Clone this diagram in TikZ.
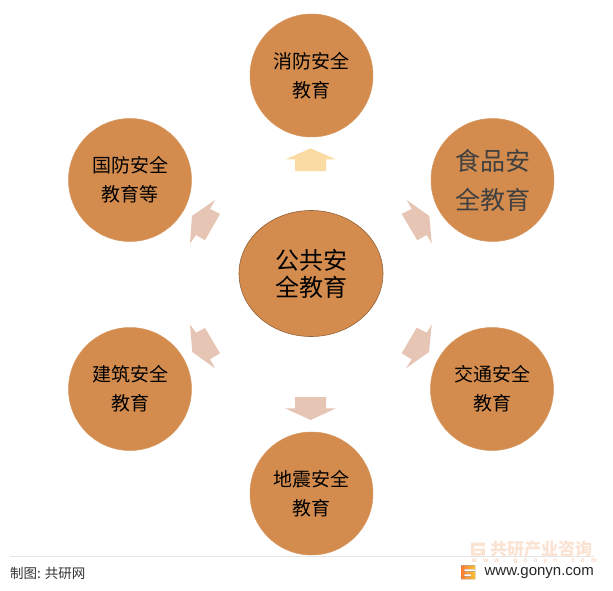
\documentclass[tikz,border=0pt]{standalone}
\usetikzlibrary{shapes.geometric}
\usepackage{fontspec}
\setmainfont{Noto Sans CJK SC}
\newfontfamily\latinf{Liberation Sans}
\definecolor{orangefill}{HTML}{D38C4E}
\definecolor{pinkarrow}{HTML}{E6C5B4}
\definecolor{yellowarrow}{HTML}{F9DBA3}
\definecolor{wmcolor}{HTML}{FBE3D3}
\definecolor{wmurlcolor}{HTML}{F4C8AC}
\tikzset{
  x=1pt,y=-1pt,
  topic/.style={circle,fill=orangefill,draw=orangefill!90!white,line width=.5pt,minimum size=123pt,inner sep=0pt,align=center,font=\fontsize{19}{29}\selectfont,text=black},
  pinkblock/.style={fill=pinkarrow,draw=none},
  yellowblock/.style={fill=yellowarrow,draw=none},
}
\begin{document}
\begin{tikzpicture}
\useasboundingbox (0,0) rectangle (613,591);
\fill[white] (0,0) rectangle (613,591);
% arrows
\fill[yellowblock] (310.7,148.3)--(335.7,159.3)--(326,159.3)--(326,171)--(295,171)--(295,159.3)--(285.7,159.3)--cycle;
\fill[pinkblock] (295,397)--(326,397)--(326,408.3)--(336,408.3)--(310.7,420)--(285,408.3)--(295,408.3)--cycle;
\fill[pinkblock] (215,200)--(210,209)--(220,214)--(205,240.3)--(196,235)--(190,243.3)--(192,216)--cycle;
\fill[pinkblock] (406.7,200)--(411.7,209)--(401.7,214)--(417.3,240.3)--(426.7,235)--(431.7,243.3)--(429.3,216)--cycle;
\fill[pinkblock] (215,368.3)--(210,359.3)--(220,353.3)--(205,328)--(196,332.7)--(190,324.7)--(192.3,352)--cycle;
\fill[pinkblock] (406,368.3)--(411.7,359.3)--(401.7,353.3)--(416.7,327.7)--(426.7,332.7)--(431.7,324.7)--(429,352)--cycle;
% circles
\node[topic] (fire) at (311.5,75.5) {消防安全\\教育};
\node[topic,font=\fontsize{25}{39}\selectfont,text=black!75] (food) at (492.5,180) {食品安\\全教育};
\node[topic] (traffic) at (492,389) {交通安全\\教育};
\node[topic] (quake) at (311.5,493.5) {地震安全\\教育};
\node[topic] (build) at (130,389) {建筑安全\\教育};
\node[topic] (defence) at (130,180) {国防安全\\教育等};
\node[ellipse,fill=orangefill,draw=orangefill!70!black,line width=.6pt,minimum width=144pt,minimum height=126pt,inner sep=0pt,align=center,font=\fontsize{24}{27}\selectfont] (core) at (311,273.5) {公共安\\全教育};
% footer
\coordinate (ruleL) at (10,556.5);
\coordinate (ruleR) at (594,556.5);
\draw[black!10,line width=.6pt] (ruleL)--(ruleR);
\node[anchor=west,inner sep=0pt,font=\fontsize{13.5}{15}\selectfont,text=black!80] (credit) at (10,573) {制图: 共研网};
% watermark
\node[anchor=west,inner sep=0pt,font=\fontsize{17}{18}\bfseries\selectfont,text=wmcolor] (wm) at (490,549) {共研产业咨询};
\node[anchor=west,inner sep=0pt,font=\latinf\fontsize{6.5}{7}\selectfont,text=wmurlcolor] (wmurl) at (472,561) {w\hspace{6.4pt}w\hspace{6.4pt}w\hspace{6.4pt}.\hspace{6.4pt}g\hspace{6.4pt}o\hspace{6.4pt}n\hspace{6.4pt}y\hspace{6.4pt}n\hspace{6.4pt}.\hspace{6.4pt}c\hspace{6.4pt}o\hspace{6.4pt}m};
\fill[wmcolor,even odd rule] (471,542.5) rectangle (485,555.5) (474,546) rectangle (485,548.5) (474,551) rectangle (481,553);
% logo
\fill[left color=orange!70!red!80,right color=orange!60!yellow!80,even odd rule] (461,565.5) rectangle (475,579) (464,569) rectangle (475,571.5) (464,574) rectangle (471,576.5);
\node[anchor=east,inner sep=0pt,font=\latinf\fontsize{15}{17}\selectfont,text=black!85] (url) at (594,573) {www.gonyn.com};
\end{tikzpicture}
\end{document}
